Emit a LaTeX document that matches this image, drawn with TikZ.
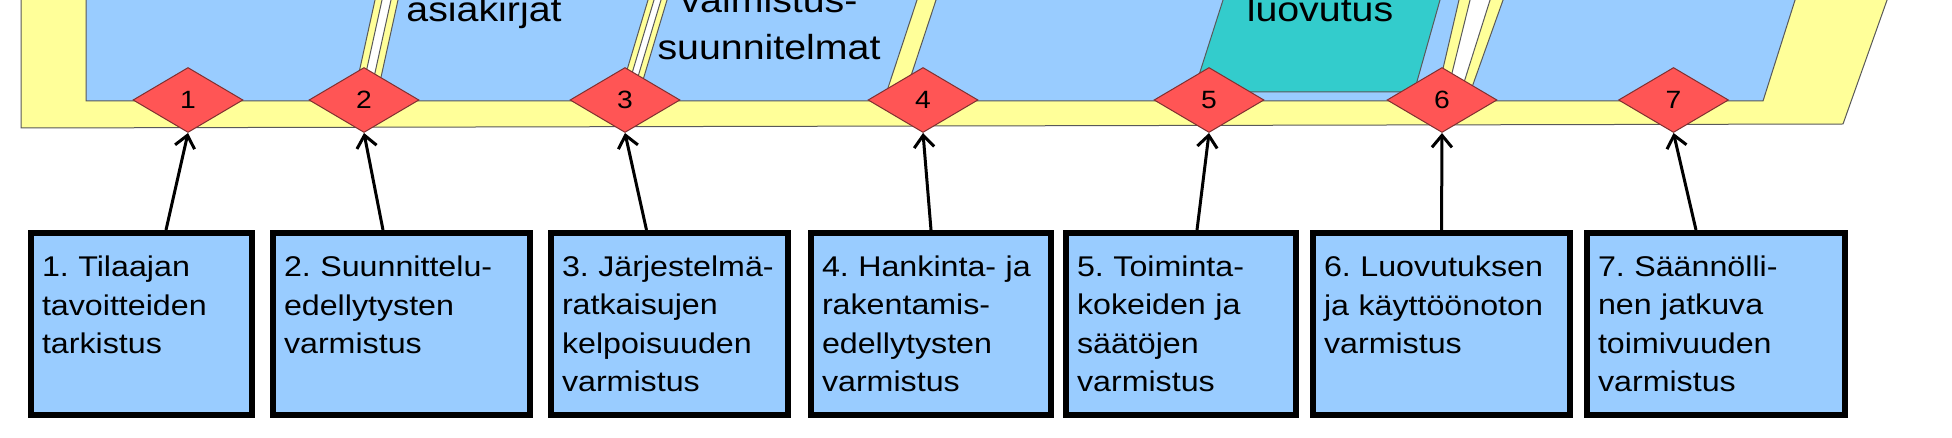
\documentclass[tikz,border=0pt]{standalone}
\usepackage{fontspec}
\setmainfont{Liberation Sans}[FakeStretch=1.13]
\usepackage{xcolor}
\usetikzlibrary{shapes.geometric,arrows.meta}

\definecolor{boxblue}{HTML}{99CCFF}
\definecolor{bandyellow}{HTML}{FFFF99}
\definecolor{handover}{HTML}{33CCCC}
\definecolor{gatered}{HTML}{FF5555}
\definecolor{gateline}{HTML}{803030}

\begin{document}
\begin{tikzpicture}
  [x=0.5pt,y=-0.5pt,
   band/.style={fill=bandyellow,draw=black!65,line width=0.5pt},
   stage/.style={fill=boxblue,draw=black!65,line width=0.5pt},
   gap/.style={fill=white,draw=black!65,line width=0.5pt},
   handoff/.style={fill=handover,draw=black!65,line width=0.5pt},
   phase/.style={inner sep=0pt,align=center,font=\fontsize{17.4}{23.5}\selectfont},
   gate/.style={diamond,fill=gatered,draw=gateline,line width=0.5pt,inner sep=0pt,
     minimum width=55pt,minimum height=32.5pt,font=\fontsize{12.5}{13}\selectfont},
   chk/.style={rectangle,draw=black,line width=3pt,fill=boxblue,minimum height=91pt,
     inner xsep=5.5pt,inner ysep=0pt,align=left,font=\fontsize{14.25}{19.25}\selectfont},
   flow/.style={line width=1.5pt,-{Straight Barb[length=6pt,width=10pt]}}]

  \useasboundingbox (0,0) rectangle (1952,438);
  \clip (0,0) rectangle (1952,438);

  \draw[band] (21,-10) -- (21,128) -- (1843,124) -- (1890.6,-10) -- cycle;
  \draw[stage] (86,-10) -- (86,101) -- (1763,101) -- (1798.2,-10) -- cycle;

  \draw[band] (377.2,-10) -- (400.2,-10) -- (378.2,90) -- (355.2,90) -- cycle;
  \draw[gap] (384.2,-10) -- (393.2,-10) -- (371.2,90) -- (362.2,90) -- cycle;
  \draw[band] (651,-10) -- (670,-10) -- (640,90) -- (621,90) -- cycle;
  \draw[gap] (657,-10) -- (664,-10) -- (634,90) -- (627,90) -- cycle;
  \draw[band] (920.3,-10) -- (939.3,-10) -- (906.3,90) -- (887.3,90) -- cycle;
  \draw[handoff] (1226.2,-10) -- (1442.8,-10) -- (1414,92) -- (1193.6,92) -- cycle;
  \draw[band] (1461.3,-10) -- (1506.6,-10) -- (1471,90) -- (1438,90) -- cycle;
  \draw[gap] (1472.5,-10) -- (1493.2,-10) -- (1461.6,90) -- (1447.8,90) -- cycle;

  \node[phase,anchor=base] (t2) at (484,22) {asiakirjat};
  \node[phase,anchor=south] (t3) at (769,60) {valmistus-\\suunnitelmat};
  \node[phase,anchor=base] (t5) at (1320,22) {luovutus};

  \node[gate] (d1) at (188,100) {1};
  \node[gate] (d2) at (364,100) {2};
  \node[gate] (d3) at (625,100) {3};
  \node[gate] (d4) at (923,100) {4};
  \node[gate] (d5) at (1209,100) {5};
  \node[gate] (d6) at (1442,100) {6};
  \node[gate] (d7) at (1673.5,100) {7};

  \node[chk,minimum width=110.5pt,text width=99.5pt] (b1) at (141.5,324)
    {1.~Tilaajan\\tavoitteiden\\tarkistus\\\hbox{}};
  \node[chk,minimum width=128.5pt,text width=117.5pt] (b2) at (401.5,324)
    {2.~Suunnittelu-\\edellytysten\\varmistus\\\hbox{}};
  \node[chk,minimum width=118.5pt,text width=107.5pt] (b3) at (669.5,324)
    {3.~Järjestelmä-\\ratkaisujen\\kelpoisuuden\\varmistus};
  \node[chk,minimum width=120pt,text width=109pt] (b4) at (931,324)
    {4.~Hankinta-~ja\\rakentamis-\\edellytysten\\varmistus};
  \node[chk,minimum width=115pt,text width=104pt] (b5) at (1181,324)
    {5.~Toiminta-\\kokeiden~ja\\säätöjen\\varmistus};
  \node[chk,minimum width=128.5pt,text width=117.5pt] (b6) at (1441.5,324)
    {6.~Luovutuksen\\ja~käyttöönoton\\varmistus\\\hbox{}};
  \node[chk,minimum width=129pt,text width=118pt] (b7) at (1716,324)
    {7.~Säännölli-\\nen~jatkuva\\toimivuuden\\varmistus};

  \foreach \n/\dx in {1/12.25,2/-9.25,3/-11.5,4/0,5/8,6/0,7/-10}
    \draw[flow] ([xshift=\dx pt]b\n.north) -- (d\n.south);

\end{tikzpicture}
\end{document}
